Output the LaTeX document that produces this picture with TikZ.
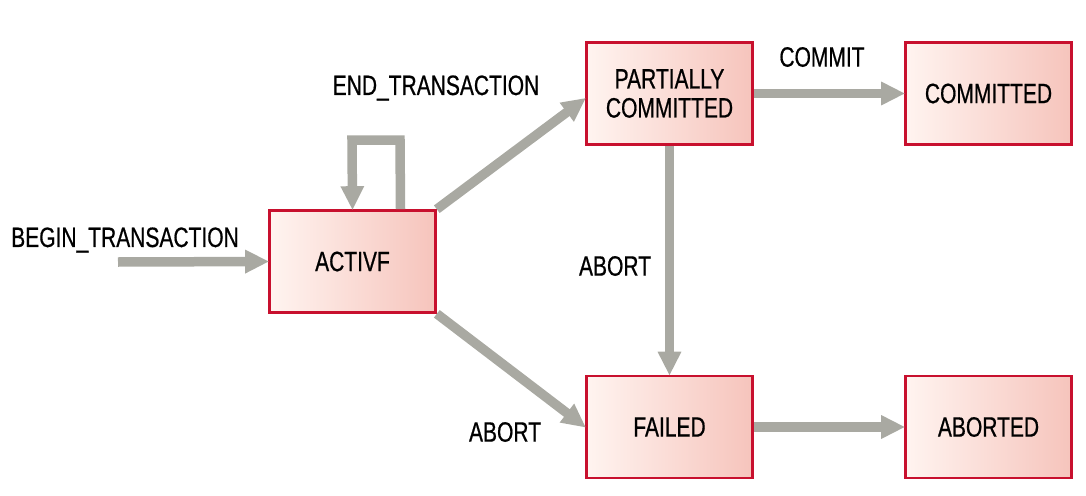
\documentclass[tikz,border=0pt]{standalone}
\usepackage{fontspec}
\setmainfont[FakeStretch=0.75,FakeBold=0.6]{Liberation Sans}
\usetikzlibrary{arrows.meta}
\definecolor{boxred}{HTML}{C8102E}
\definecolor{arrgray}{HTML}{A9A9A2}
\definecolor{pinkA}{HTML}{FFF4F0}
\definecolor{pinkB}{HTML}{F6C4BC}
\tikzset{
  state/.style={draw=boxred, line width=2.6pt, left color=pinkA, right color=pinkB,
    minimum width=166pt, minimum height=102pt, inner sep=0pt, align=center,
    font=\fontsize{28}{29}\selectfont},
  flow/.style={draw=arrgray, line width=9.5pt,
    -{Triangle[length=24pt,width=22pt]}, shorten >=-1pt},
  lbl/.style={font=\fontsize{28}{29}\selectfont, inner sep=0pt}
}
\begin{document}
\begin{tikzpicture}[x=1pt,y=-1pt]
\useasboundingbox (0,0) rectangle (1086,495);
\node[state] (active) at (352.5,261.5) {ACTIVF};
\node[state] (partial) at (669.5,93.5) {PARTIALLY\\COMMITTED};
\node[state] (committed) at (988.5,93.5) {COMMITTED};
\node[state] (failed) at (669.5,427) {FAILED};
\node[state] (aborted) at (988.5,427) {ABORTED};
\coordinate (bstart) at (118,262);
\coordinate (l1) at (400,140);
\coordinate (l2) at (352,140);
\draw[flow] (bstart) -- (active.west);
\draw[flow] ([xshift=48pt]active.north) -- (l1) -- (l2) -- (active.north);
\draw[flow] (active.north east) -- ([yshift=-5pt]partial.west);
\draw[flow] (active.south east) -- (failed.west);
\draw[flow] (partial.south) -- (failed.north);
\draw[flow] (partial.east) -- (committed.west);
\draw[flow] (failed.east) -- (aborted.west);
\node[lbl] (lend) at (436,88) {END\_TRANSACTION};
\node[lbl] (lcommit) at (822,57) {COMMIT};
\node[lbl] (lbegin) at (125,240) {BEGIN\_TRANSACTION};
\node[lbl] (labort1) at (615,266) {ABORT};
\node[lbl] (labort2) at (505,432) {ABORT};
\end{tikzpicture}
\end{document}
